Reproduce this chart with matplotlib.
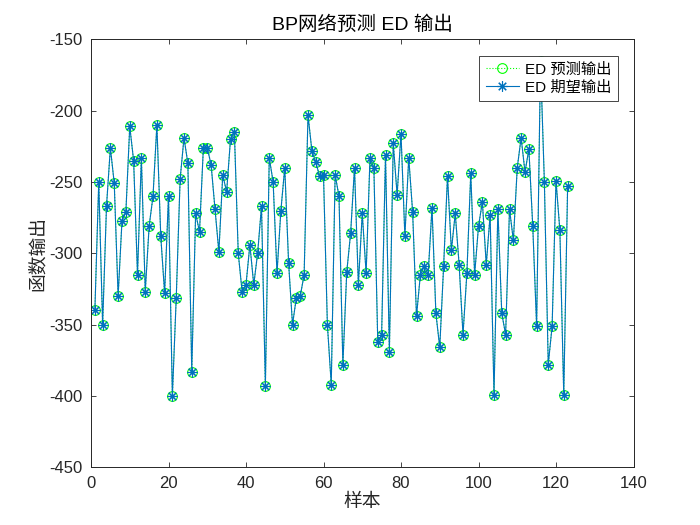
import matplotlib
matplotlib.use("Agg")
import matplotlib.pyplot as plt
import numpy as np

plt.rcParams['font.family'] = ['Liberation Sans', 'Noto Sans CJK SC', 'DejaVu Sans']
plt.rcParams['axes.unicode_minus'] = False

samples = np.arange(1, 124)
expected = [-340, -250, -350, -267, -226, -251, -330, -277, -271, -211,
            -235, -315, -233, -327, -281, -260, -210, -288, -328, -260,
            -400, -331, -248, -219, -237, -383, -272, -285, -226, -226,
            -238, -269, -299, -245, -257, -220, -215, -300, -327, -322,
            -294, -322, -300, -267, -393, -233, -250, -314, -270, -240,
            -307, -350, -331, -330, -315, -203, -228, -236, -246, -245,
            -350, -392, -245, -260, -378, -313, -286, -240, -322, -272,
            -314, -233, -240, -362, -357, -231, -369, -223, -259, -216,
            -288, -233, -271, -344, -315, -309, -315, -268, -342, -366,
            -309, -246, -298, -272, -308, -357, -314, -244, -315, -281,
            -264, -308, -273, -399, -269, -342, -357, -269, -291, -240,
            -219, -243, -227, -281, -351, -165, -250, -378, -351, -249,
            -284, -399, -253]
predicted = [-340, -250, -350, -267, -226, -251, -330, -277, -271, -211,
             -235, -315, -233, -327, -281, -260, -210, -288, -328, -260,
             -400, -331, -248, -219, -237, -383, -272, -285, -226, -226,
             -238, -269, -299, -245, -257, -220, -215, -300, -327, -322,
             -294, -322, -300, -267, -393, -233, -250, -314, -270, -240,
             -307, -350, -331, -330, -315, -203, -228, -236, -246, -245,
             -350, -392, -245, -260, -378, -313, -286, -240, -322, -272,
             -314, -233, -240, -362, -357, -231, -369, -223, -259, -216,
             -288, -233, -271, -344, -315, -309, -315, -268, -342, -366,
             -309, -246, -298, -272, -308, -357, -314, -244, -315, -281,
             -264, -308, -273, -399, -269, -342, -357, -269, -291, -240,
             -219, -243, -227, -281, -351, -165, -250, -378, -351, -249,
             -284, -399, -253]

fig = plt.figure(figsize=(7, 5.25), dpi=100)
ax = fig.add_axes([0.13, 0.11, 0.775, 0.815])

ax.plot(samples, predicted, ':', color='#00ff00', linewidth=0.8,
        marker='o', markersize=7, markerfacecolor='none',
        markeredgecolor='#00ff00', markeredgewidth=0.8, label='ED 预测输出')
ax.plot(samples, expected, '-', color='#0072BD', linewidth=0.8,
        marker=(8, 2, 0), markersize=7.5, markeredgewidth=0.8, label='ED 期望输出')

ax.set_xlim(0, 140)
ax.set_ylim(-450, -150)
ax.set_xticks(np.arange(0, 141, 20))
ax.set_yticks(np.arange(-450, -149, 50))
ax.tick_params(axis='both', direction='in', length=3.9, width=0.6,
               top=True, right=True, labelsize=12, colors='#262626',
               pad=6)
for s in ax.spines.values():
    s.set_linewidth(0.7)
    s.set_color('#262626')

ax.set_title('BP网络预测 ED 输出', fontsize=14, color='black', pad=7)
ax.set_xlabel('样本', fontsize=13.5, color='#262626', labelpad=2)
ax.set_ylabel('函数输出', fontsize=13.5, color='#262626', labelpad=2)

leg = ax.legend(loc='upper right', bbox_to_anchor=(0.971, 0.96),
                fontsize=11, fancybox=False, framealpha=1,
                edgecolor='#262626', handlelength=2.2, borderpad=0.4,
                labelspacing=0.25, handletextpad=0.4, borderaxespad=0)
leg.get_frame().set_linewidth(0.6)
leg.set_zorder(10)

plt.savefig('out.png', dpi=100)
